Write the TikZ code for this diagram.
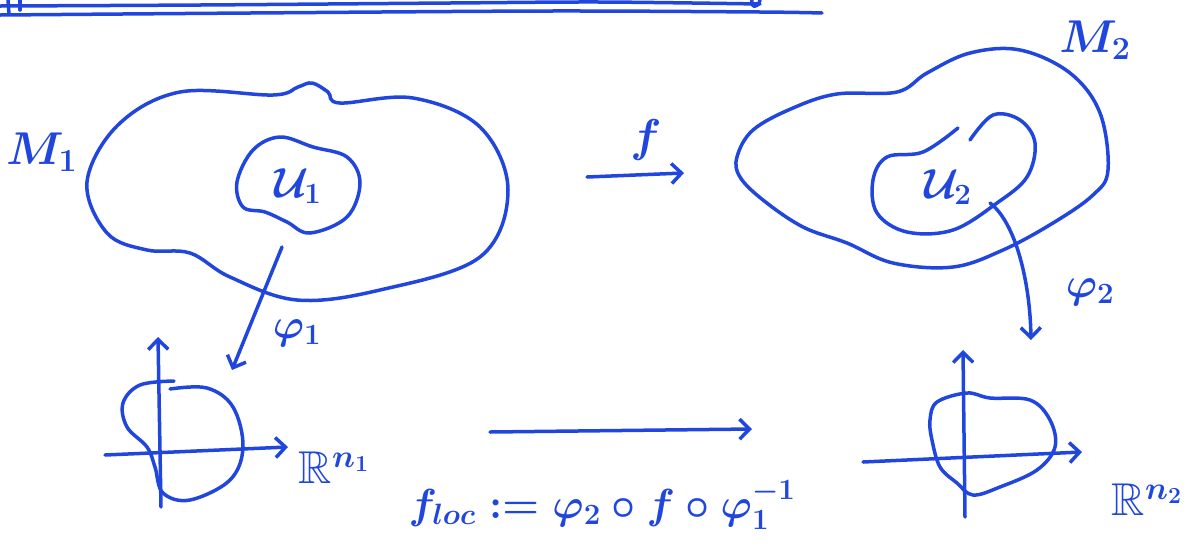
\RequirePackage{fix-cm}
\documentclass[tikz,border=0pt]{standalone}
\usepackage{amssymb}
\usetikzlibrary{arrows.meta}
\definecolor{ink}{RGB}{32,70,222}
\tikzset{
  pen/.style={draw=ink, line width=3.5pt, line cap=round, line join=round},
  arr/.style={pen, -{Straight Barb[length=10pt,width=20pt,line width=3.5pt]}},
  lbl/.style={text=ink, inner sep=0pt},
  big/.style={lbl, font=\fontsize{46}{52}\selectfont\boldmath},
  mid/.style={lbl, font=\fontsize{42}{48}\selectfont\boldmath},
}
\begin{document}
\begin{tikzpicture}[x=1pt,y=-1pt]
\useasboundingbox (0,0) rectangle (1195,550);
% heading rules (cut off at the top)
\draw[pen] plot[smooth] coordinates {(0,6) (200,5) (450,3) (600,2) (760,4)};
\draw[pen] plot[smooth] coordinates {(0,15) (250,13) (550,11) (760,12) (822,13)};
\draw[pen] (8,0) -- (9,14);
\draw[pen] (20,0) -- (20,10);
\draw[pen] (752,0) .. controls (750,8) and (758,9) .. (760,0);

% manifold M1 and U1
\draw[pen] plot[smooth cycle, tension=0.6] coordinates {(87,182) (118,125) (180,92) (273,95) (298,87) (312,83) (328,92) (340,103) (413,98) (480,127) (508,190) (480,257) (380,290) (297,300) (230,277) (190,253) (147,250) (107,233)};
\draw[pen] plot[smooth cycle, tension=0.6] coordinates {(237,182) (253,150) (280,137) (313,147) (347,157) (360,183) (347,217) (310,233) (287,222) (265,212) (243,207)};
\node[big, anchor=west] (M1) at (6,152) {$M_1$};
\node[mid] (U1) at (298,186) {$\mathcal{U}_1$};

% manifold M2 and U2
\draw[pen] plot[smooth cycle, tension=0.6] coordinates {(737,157) (753,130) (793,108) (837,94) (897,92) (927,73) (970,53) (1020,50) (1070,73) (1100,113) (1108,170) (1093,195) (1053,223) (1003,250) (953,267) (893,263) (847,243) (803,227) (763,200) (740,177)};
\draw[pen] plot[smooth, tension=0.6] coordinates {(958,128) (923,152) (887,157) (873,180) (877,213) (907,232) (953,230) (997,203) (1027,177) (1035,143) (1020,120) (993,115) (970,140)};
\node[big] (M2) at (1095,40) {$M_2$};
\node[mid] (U2) at (948,187) {$\mathcal{U}_2$};

% map f
\coordinate (fs) at (587,177);
\coordinate (fe) at (684,173);
\draw[arr] (fs) -- (fe);
\node[big] (f) at (646,140) {$f$};

% charts
\coordinate (p1s) at (282,247);
\coordinate (p1e) at (232,370);
\draw[arr] (p1s) -- (p1e);
\node[mid] (phi1) at (297,333) {$\varphi_1$};

\coordinate (p2s) at (990,203);
\coordinate (p2e) at (1031,340);
\draw[arr] (p2s) .. controls (1015,222) and (1030,280) .. (p2e);
\node[mid] (phi2) at (1090,292) {$\varphi_2$};

% left R^{n1}
\coordinate (a1b) at (161,507);
\coordinate (a1t) at (158,337);
\coordinate (h1l) at (105,455);
\coordinate (h1r) at (288,447);
\draw[arr] (a1b) -- (a1t);
\draw[arr] (h1l) -- (h1r);
\draw[pen] plot[smooth, tension=0.6] coordinates {(170,389) (207,388) (233,407) (243,447) (230,480) (190,500) (163,493) (155,467) (147,447) (127,427) (123,403) (140,385) (174,381)};
\node[big] (R1) at (334,468) {$\mathbb{R}^{n_1}$};

% right R^{n2}
\coordinate (a2b) at (965,517);
\coordinate (a2t) at (963,350);
\coordinate (h2l) at (863,462);
\coordinate (h2r) at (1082,452);
\draw[arr] (a2b) -- (a2t);
\draw[arr] (h2l) -- (h2r);
\draw[pen] plot[smooth cycle, tension=0.6] coordinates {(937,402) (967,393) (990,398) (1030,400) (1050,420) (1055,447) (1037,470) (1000,487) (973,495) (957,483) (940,467) (932,440) (930,420)};
\node[big] (R2) at (1147,500) {$\mathbb{R}^{n_2}$};

% local representative
\coordinate (ls) at (490,432);
\coordinate (le) at (752,429);
\draw[arr] (ls) -- (le);
\node[mid] (floc) at (602,505) {$f_{loc}:=\varphi_2\circ f\circ\varphi_1^{-1}$};
\end{tikzpicture}
\end{document}
